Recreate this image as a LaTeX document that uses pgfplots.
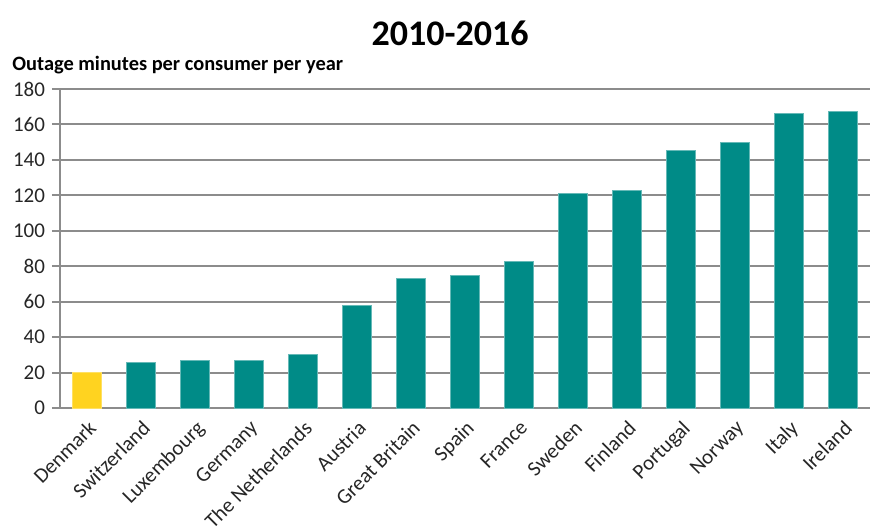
\documentclass[border=0pt]{standalone}
\usepackage{fontspec}
\setmainfont{Carlito}
\usepackage{pgfplots}
\pgfplotsset{compat=1.18}
\definecolor{teal1}{HTML}{008B87}
\definecolor{yel}{HTML}{FFD320}
\definecolor{gridg}{HTML}{8C8C8C}
\begin{document}
\begin{tikzpicture}
\path[use as bounding box] (-30pt,-59.5pt) rectangle (407.5pt,204pt);
\begin{axis}[
  at={(0,0)}, anchor=south west,
  scale only axis, width=405pt, height=159.5pt,
  xmin=-0.5, xmax=14.5, ymin=0, ymax=180,
  ytick={0,20,...,180},
  ymajorgrids, grid style={gridg, line width=1pt},
  axis x line*=bottom, axis y line*=left,
  axis line style={gridg, line width=1pt},
  x axis line style={-}, y axis line style={-},
  xtick={0,...,14},
  xticklabels={Denmark,Switzerland,Luxembourg,Germany,The Netherlands,Austria,Great Britain,Spain,France,Sweden,Finland,Portugal,Norway,Italy,Ireland},
  major x tick style={draw=none},
  extra x ticks={-0.5,0.5,...,14.5},
  extra x tick labels={},
  extra x tick style={major tick length=4pt, tick align=outside, tick style={gridg, line width=1pt}, grid=none},
  ytick style={gridg, line width=1pt},
  major tick length=4pt, tick align=outside,
  xticklabel style={rotate=45, anchor=north east, inner sep=1pt, font=\fontsize{10.5}{12}\selectfont, text=black!85},
  yticklabel style={font=\fontsize{10.5}{12}\selectfont, text=black!85},
  /pgf/number format/assume math mode=true,
  ybar, bar width=0.55, bar shift=0pt,
  clip=false,
]
\addplot[fill=yel, draw=yel!70!white, line width=0.5pt] coordinates {(0,19.8)};
\addplot[fill=teal1, draw=teal1!60!white, line width=0.5pt] coordinates {
(1,25.4) (2,27) (3,27) (4,30) (5,57.6) (6,72.8) (7,75) (8,82.4) (9,121.3) (10,122.5) (11,145.2) (12,149.7) (13,166.3) (14,167.4)};
\end{axis}
\node[anchor=west, inner sep=0pt, font=\bfseries\fontsize{10.2}{12}\selectfont] at (-24pt,171.5pt) {Outage minutes per consumer per year};
\node[font=\bfseries\fontsize{18}{22}\selectfont] at (195pt,187.5pt) {2010-2016};
\end{tikzpicture}
\end{document}
